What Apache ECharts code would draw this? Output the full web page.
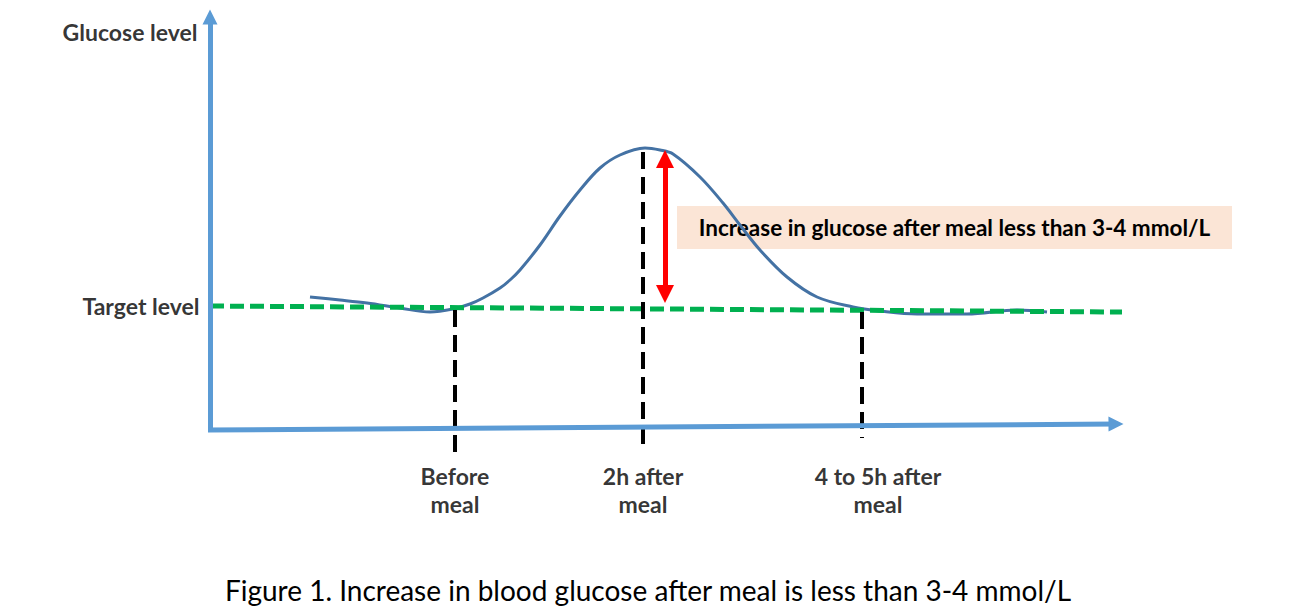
<!DOCTYPE html>
<html>
<head>
<meta charset="utf-8">
<script src="https://cdn.jsdelivr.net/npm/echarts@6/dist/echarts.min.js"></script>
<style>html,body{margin:0;padding:0;background:#fff}#c{width:1296px;height:616px}</style>
</head>
<body>
<div id="c"></div>
<script>
// Diagram space: x = horizontal position (time), y = vertical position (glucose), screen-like units
const curveX = [310, 340, 367, 400, 430, 453, 470, 483, 500, 510, 520, 540, 560, 580, 600, 620, 645, 660, 673, 700, 723, 740, 760, 787, 817, 853, 880, 917, 967, 1017, 1047];
const curveY = [297, 300, 303, 308, 312, 309, 304, 298, 288, 280, 270, 245, 216, 190, 168, 155, 148, 150, 154, 177, 203, 225, 250, 277, 297, 307, 311, 314, 314, 310, 312];
const targetX = [210, 1122];
const targetY = [306, 312];
const timeLabels = ['Before\nmeal', '2h after\nmeal', '4 to 5h after\nmeal'];
const timeLabelX = [455, 643, 878];
const markX = [455, 643, 862];
const markTop = [310, 152, 312];
const markBottom = [455, 450, 438];
const yAxisLine = [[210, 430], [210, 17]];
const xAxisLine = [[208, 430], [1116, 424]];
const riseArrowX = 665;
const riseArrowY = [159, 294];
const noteBox = [[677, 206], [1232, 249]];
const noteText = 'Increase in glucose after meal less than 3-4 mmol/L';
const yTitle = 'Glucose level';
const yTitlePos = [201, 32];
const targetTitle = 'Target level';
const caption = 'Figure 1. Increase in blood glucose after meal is less than 3-4 mmol/L';

const FONT = 'Lato';
const chart = echarts.init(document.getElementById('c'), null, {renderer: 'svg'});

const series = [];
// axes
series.push({
  type: 'line', data: [], z: 1, silent: true,
  markLine: {
    silent: true, animation: false,
    symbol: ['none', 'triangle'], symbolSize: 15,
    label: {show: false},
    lineStyle: {color: '#5B9BD5', width: 5, type: 'solid'},
    emphasis: {disabled: true},
    data: [
      [{coord: yAxisLine[0]}, {coord: yAxisLine[1]}],
      [{coord: xAxisLine[0]}, {coord: xAxisLine[1]}]
    ]
  }
});
// glucose curve
series.push({
  type: 'line', z: 2, silent: true, smooth: 0.35, showSymbol: false,
  data: curveX.map((x, i) => [x, curveY[i]]),
  lineStyle: {color: '#4472A4', width: 3}
});
// target level
series.push({
  type: 'line', z: 3, silent: true, showSymbol: false,
  data: targetX.map((x, i) => [x, targetY[i]]),
  lineStyle: {color: '#00B050', width: 5, type: [14, 6]}
});
// vertical dashed markers
markX.forEach((x, i) => {
  series.push({
    type: 'line', z: 4, silent: true, showSymbol: false,
    data: [[x, markTop[i]], [x, markBottom[i]]],
    lineStyle: {color: '#000', width: 4, type: [17, 8]}
  });
});
// note box
series.push({
  type: 'line', data: [], z: 5, silent: true,
  markArea: {
    silent: true,
    itemStyle: {color: '#FBE5D6'},
    label: {show: true, position: 'inside', color: '#000', fontFamily: FONT, fontWeight: 'bold', fontSize: 22.5},
    data: [[{coord: noteBox[0], name: noteText}, {coord: noteBox[1]}]]
  }
});
// red double arrow
series.push({
  type: 'line', data: [], z: 6, silent: true,
  markLine: {
    silent: true, animation: false,
    symbol: ['triangle', 'triangle'], symbolSize: 18,
    label: {show: false},
    lineStyle: {color: '#FF0000', width: 5, type: 'solid'},
    emphasis: {disabled: true},
    data: [[{coord: [riseArrowX, riseArrowY[0]]}, {coord: [riseArrowX, riseArrowY[1]]}]]
  }
});
// text labels
const lblBase = {show: true, color: '#000', fontFamily: FONT, fontWeight: 'bold', fontSize: 23};
series.push({
  type: 'scatter', z: 7, silent: true, symbolSize: 1, itemStyle: {color: 'rgba(0,0,0,0)'},
  data: [
    {value: yTitlePos, label: Object.assign({}, lblBase, {position: 'left', distance: 3, formatter: yTitle})},
    {value: [targetX[0], targetY[0]], label: Object.assign({}, lblBase, {position: 'left', distance: 10, formatter: targetTitle})}
  ].concat(timeLabels.map((t, i) => ({
    value: [timeLabelX[i], xAxisLine[0][1]],
    label: Object.assign({}, lblBase, {position: 'bottom', distance: 31, lineHeight: 28, align: 'center', formatter: t})
  })))
});

chart.setOption({
  animation: false,
  backgroundColor: '#fff',
  title: {
    text: caption, left: 'center', top: 571,
    textStyle: {fontFamily: FONT, fontWeight: 'normal', fontSize: 28, color: '#000'}
  },
  grid: {left: 0, right: 0, top: 0, bottom: 0},
  xAxis: {type: 'value', min: 0, max: 1296, show: false},
  yAxis: {type: 'value', min: 0, max: 616, inverse: true, show: false},
  series: series
});
</script>
</body>
</html>
